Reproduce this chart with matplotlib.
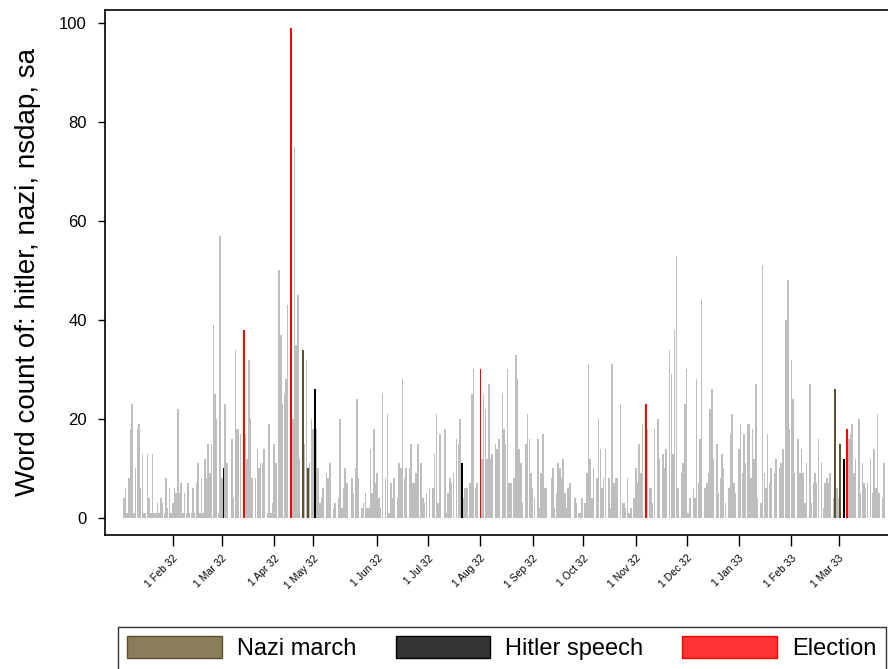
import numpy as np
import matplotlib.pyplot as plt
from matplotlib.patches import Patch

plt.rcParams['font.family'] = ['Liberation Sans', 'DejaVu Sans']

# daily word counts, day 1 = 2 Jan 1932 (day 0 = 1 Jan 1932)
counts = [
    4, 6, 1, 8, 18, 23, 1, 10, 18, 19,
    6, 13, 1, 1, 13, 4, 1, 13, 1, 1,
    3, 1, 4, 3, 1, 8, 2, 6, 1, 3,
    6, 5, 22, 5, 7, 1, 5, 1, 7, 1,
    1, 6, 1, 7, 11, 1, 8, 1, 12, 8,
    15, 9, 15, 39, 25, 20, 1, 57, 8, 10,
    23, 11, 0, 0, 16, 4, 34, 18, 18, 17,
    0, 38, 17, 12, 32, 20, 8, 0, 8, 14,
    10, 11, 11, 14, 0, 1, 19, 1, 3, 15,
    11, 0, 50, 37, 23, 25, 28, 43, 0, 99,
    20, 75, 35, 45, 12, 0, 34, 15, 32, 10,
    11, 20, 18, 26, 18, 10, 3, 4, 6, 0,
    9, 8, 11, 0, 2, 3, 0, 4, 20, 2,
    6, 10, 7, 0, 0, 8, 5, 10, 24, 8,
    0, 2, 3, 5, 2, 2, 14, 5, 18, 7,
    9, 4, 2, 25, 0, 8, 21, 1, 7, 4,
    8, 0, 4, 11, 10, 28, 8, 10, 0, 10,
    15, 7, 7, 9, 15, 0, 11, 4, 3, 5,
    0, 6, 0, 6, 13, 21, 3, 17, 0, 0,
    18, 1, 5, 8, 7, 9, 0, 16, 15, 20,
    11, 4, 6, 6, 0, 7, 25, 30, 6, 7,
    0, 30, 12, 25, 22, 12, 27, 12, 13, 0,
    15, 14, 16, 0, 25, 18, 15, 30, 7, 7,
    0, 8, 33, 28, 14, 11, 3, 0, 15, 21,
    16, 9, 6, 4, 0, 16, 2, 9, 17, 6,
    6, 0, 0, 8, 10, 2, 5, 11, 10, 8,
    12, 5, 2, 6, 7, 0, 0, 4, 3, 1,
    1, 4, 0, 3, 9, 31, 12, 4, 10, 0,
    8, 20, 14, 6, 8, 14, 0, 8, 2, 31,
    7, 8, 8, 0, 23, 3, 3, 2, 8, 1,
    2, 0, 4, 10, 7, 15, 9, 19, 0, 23,
    18, 6, 6, 3, 18, 0, 20, 12, 0, 13,
    10, 14, 0, 34, 29, 13, 38, 53, 6, 0,
    9, 11, 23, 30, 1, 4, 0, 6, 4, 28,
    7, 16, 44, 0, 6, 7, 9, 22, 26, 12,
    0, 15, 5, 8, 13, 10, 3, 0, 6, 17,
    21, 7, 5, 0, 14, 19, 9, 17, 11, 19,
    19, 8, 18, 12, 27, 4, 0, 3, 51, 9,
    6, 17, 7, 10, 0, 9, 12, 0, 10, 11,
    14, 0, 40, 48, 18, 32, 24, 9, 0, 16,
    9, 14, 9, 3, 11, 0, 27, 3, 7, 9,
    7, 16, 0, 11, 2, 7, 8, 7, 9, 0,
    4, 26, 6, 4, 15, 0, 12, 0, 18, 16,
    17, 19, 9, 12, 0, 20, 5, 11, 7, 6,
    7, 0, 12, 5, 14, 6, 21, 5, 0, 4,
    11,
]

march_days = [107, 110, 422, 425]
speech_days = [60, 114, 201, 427]
election_days = [72, 100, 212, 310, 429]

tick_days = [30, 59, 90, 113, 151, 181, 212, 243, 273, 304, 334, 365, 396, 424]
tick_labels = ['1 Feb 32', '1 Mar 32', '1 Apr 32', '1 May 32', '1 Jun 32', '1 Jul 32',
               '1 Aug 32', '1 Sep 32', '1 Oct 32', '1 Nov 32', '1 Dec 32', '1 Jan 33',
               '1 Feb 33', '1 Mar 33']

days = np.arange(1, len(counts) + 1)
vals = np.array(counts)

fig = plt.figure(figsize=(8.88, 6.69), dpi=100)
ax = fig.add_axes([105 / 888, 1 - 535 / 669, 785 / 888, 525 / 669])

ax.bar(days, vals, width=0.9, color='#bebebe', linewidth=0, antialiased=False)

events = [(march_days, '#5e5130'), (speech_days, '#000000'), (election_days, '#ff0000')]
for ev_days, col in events:
    idx = np.array(ev_days) - 1
    ax.bar(days[idx], vals[idx], width=1.0, color=col, linewidth=0, antialiased=False)

ax.set_xlim(-10.1, 454.4)
ax.set_ylim(-3.45, 102.6)

ax.set_yticks([0, 20, 40, 60, 80, 100])
ax.tick_params(axis='y', labelsize=12, length=5, width=1, pad=8)
ax.set_xticks(tick_days)
ax.set_xticklabels(tick_labels, rotation=45, ha='right', va='top',
                   rotation_mode='anchor', fontsize=7.5)
ax.tick_params(axis='x', length=8, width=1, pad=5)

ax.set_ylabel('Word count of: hitler, nazi, nsdap, sa', fontsize=20, labelpad=13)

for s in ax.spines.values():
    s.set_linewidth(1.2)
ax.spines['right'].set_visible(False)

handles = [
    Patch(facecolor='#8a7d5a', edgecolor='#5c4f2a', linewidth=1, label='Nazi march'),
    Patch(facecolor='#333333', edgecolor='#000000', linewidth=1, label='Hitler speech'),
    Patch(facecolor='#ff3333', edgecolor='#ff0000', linewidth=1, label='Election'),
]
leg = fig.legend(handles=handles, loc='upper left', bbox_to_anchor=(118 / 888, 1 - 627 / 669),
                 ncol=3, fontsize=17, frameon=True, fancybox=False, edgecolor='black',
                 handlelength=4.0, handleheight=1.05, handletextpad=0.65,
                 columnspacing=1.65, borderpad=0.4, borderaxespad=0)
leg.get_frame().set_linewidth(1)

fig.savefig('out.png', dpi=100)
